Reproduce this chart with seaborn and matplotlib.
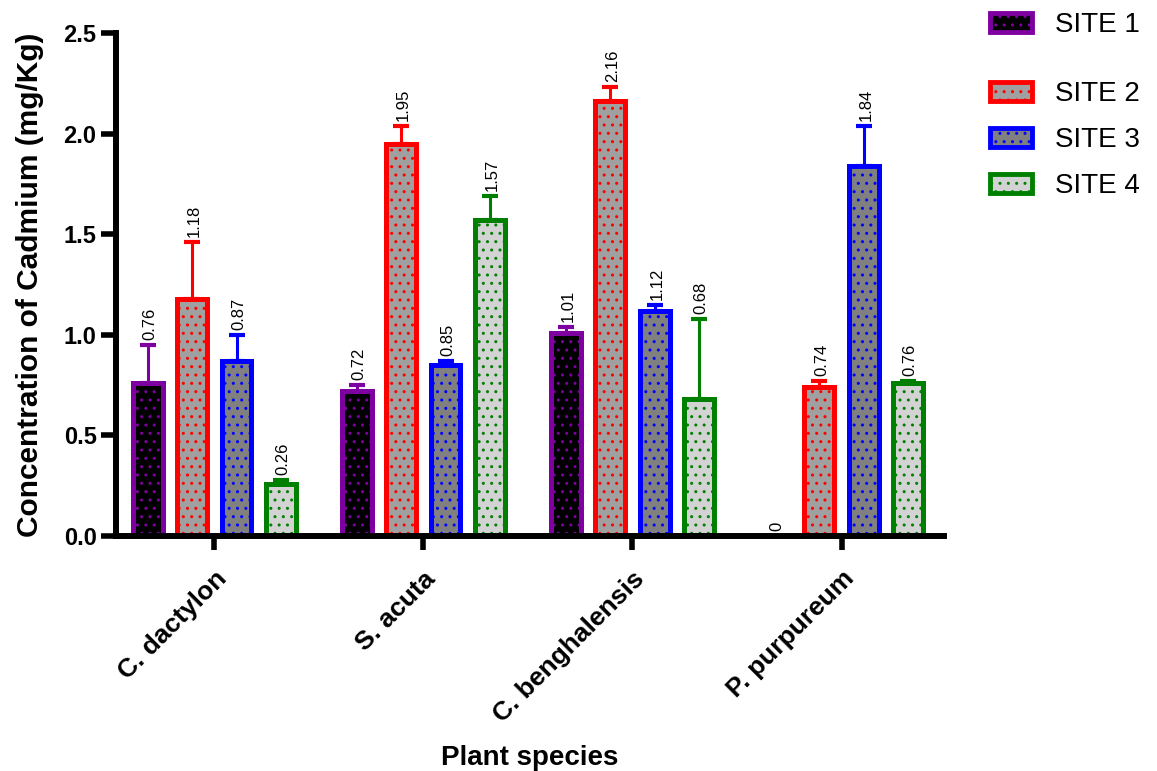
import seaborn as sns
import pandas as pd
import numpy as np
import matplotlib.pyplot as plt
from matplotlib.patches import Patch

species = ['C. dactylon', 'S. acuta', 'C. benghalensis', 'P. purpureum']
sites = ['SITE 1', 'SITE 2', 'SITE 3', 'SITE 4']
site1 = [0.76, 0.72, 1.01, 0.0]
site2 = [1.18, 1.95, 2.16, 0.74]
site3 = [0.87, 0.85, 1.12, 1.84]
site4 = [0.26, 1.57, 0.68, 0.76]
err1 = [0.19, 0.03, 0.03, 0.0]
err2 = [0.28, 0.09, 0.07, 0.03]
err3 = [0.13, 0.02, 0.03, 0.20]
err4 = [0.02, 0.12, 0.40, 0.01]

edge_cols = ['#7F00A0', '#FF0000', '#0000FF', '#008000']
fill_cols = ['#000000', '#A0A0A0', '#808080', '#D3D3D3']

vals = [site1, site2, site3, site4]
errs = [err1, err2, err3, err4]
rows = []
for s, v in zip(sites, vals):
    for sp, x in zip(species, v):
        rows.append({'species': sp, 'site': s, 'value': x})
df = pd.DataFrame(rows)

sns.set_style('ticks')
plt.rcParams['font.family'] = ['Liberation Sans', 'DejaVu Sans']
plt.rcParams['hatch.linewidth'] = 1.0
for k in ['text.color', 'axes.labelcolor', 'xtick.color', 'ytick.color', 'axes.edgecolor']:
    plt.rcParams[k] = 'black'

fig = plt.figure(figsize=(11.57, 7.71), dpi=100)
ax = fig.add_axes([0.1003, 0.3048, 0.7156, 0.6524])

sns.barplot(data=df, x='species', y='value', hue='site', palette=fill_cols,
            width=0.85, gap=0.33, errorbar=None, ax=ax, legend=False)

# style bars, add one-sided error bars and value labels
bar_conts = list(ax.containers)
for i, cont in enumerate(bar_conts):
    for j, p in enumerate(cont.patches):
        p.set_facecolor(fill_cols[i])
        p.set_edgecolor(edge_cols[i])
        p.set_linewidth(3.6)
        p.set_hatch('..')
        xc = p.get_x() + p.get_width() / 2
        h = p.get_height()
        e = errs[i][j]
        if h > 0:
            ax.errorbar(xc, h, yerr=[[0], [e]], color=edge_cols[i], capsize=5.5,
                        elinewidth=2.2, capthick=3, zorder=1)
        ax.text(xc + 0.01, h + e + 0.025, '%g' % vals[i][j], rotation=90, ha='center',
                va='bottom', fontsize=12)

ax.set_ylim(0, 2.5)
ax.set_xlim(-0.47, 3.49)
ax.set_yticks([0, 0.5, 1.0, 1.5, 2.0, 2.5])
ax.set_yticklabels(['0.0', '0.5', '1.0', '1.5', '2.0', '2.5'], fontsize=17, fontweight='bold')
ax.set_xticks(range(4))
ax.set_xticklabels(species, rotation=45, ha='right', rotation_mode='anchor',
                   fontsize=19, fontweight='bold')
ax.set_xlabel('Plant species', fontsize=20, fontweight='bold')
ax.xaxis.set_label_coords(0.5, -0.415)
ax.set_ylabel('Concentration of Cadmium (mg/Kg)', fontsize=21.5, fontweight='bold')
ax.yaxis.set_label_coords(-0.087, 0.5)
sns.despine(ax=ax)
for sp in ['left', 'bottom']:
    ax.spines[sp].set_linewidth(4.3)
ax.tick_params(axis='y', width=4, length=11, pad=3)
ax.tick_params(axis='x', width=4, length=10, pad=12)

handles = [Patch(facecolor=fill_cols[i], edgecolor=edge_cols[i], linewidth=3.5, hatch='..')
           for i in range(4)]
leg_kw = dict(frameon=False, fontsize=20, handlelength=1.5, handleheight=0.65,
              handletextpad=0.85, borderpad=0, borderaxespad=0, labelspacing=0.72)
fig.legend(handles[:1], sites[:1], loc='center left',
           bbox_to_anchor=(990 / 1157, 1 - 25 / 771), **leg_kw)
fig.legend(handles[1:], sites[1:], loc='center left',
           bbox_to_anchor=(990 / 1157, 1 - 140 / 771), **leg_kw)

fig.savefig('out.png', dpi=100)
